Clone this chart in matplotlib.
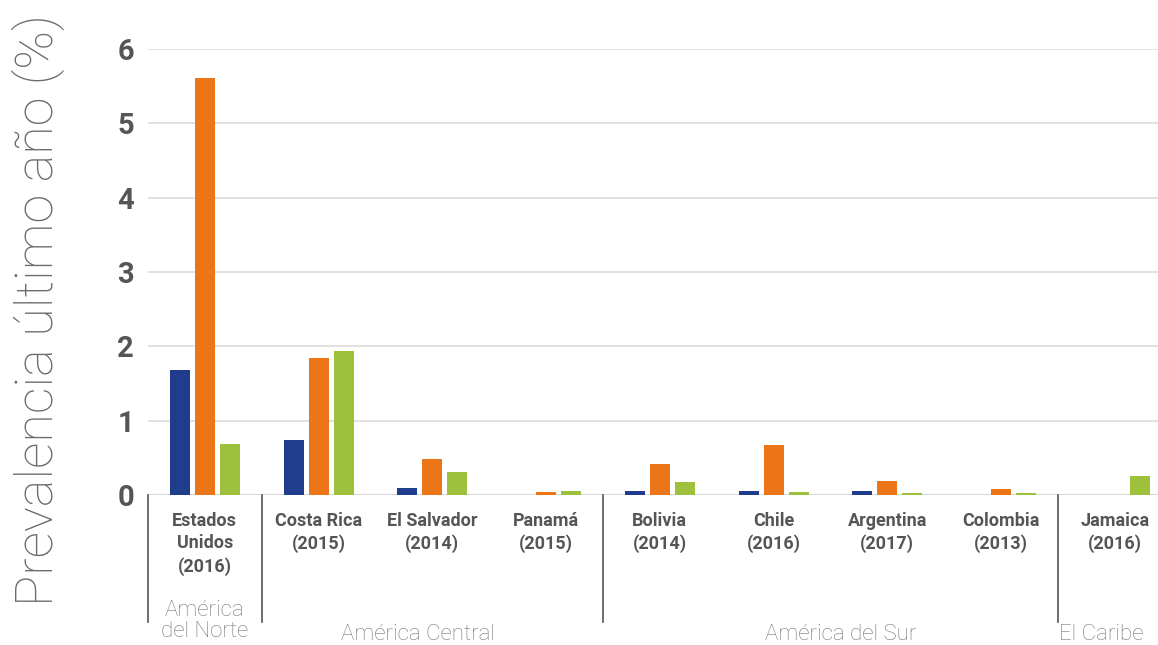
import matplotlib.pyplot as plt
import matplotlib.transforms as mtransforms
import numpy as np

plt.rcParams['font.family'] = ['Roboto', 'DejaVu Sans']

# data
paises = ['Estados\nUnidos\n(2016)', 'Costa Rica\n(2015)', 'El Salvador\n(2014)', 'Panamá\n(2015)',
          'Bolivia\n(2014)', 'Chile\n(2016)', 'Argentina\n(2017)', 'Colombia\n(2013)', 'Jamaica\n(2016)']
serie_azul = [1.68, 0.74, 0.10, 0.0, 0.06, 0.06, 0.06, 0.0, 0.0]
serie_naranja = [5.61, 1.84, 0.48, 0.035, 0.42, 0.67, 0.19, 0.08, 0.0]
serie_verde = [0.69, 1.94, 0.31, 0.06, 0.17, 0.035, 0.02, 0.02, 0.26]
regiones = ['América\ndel Norte', 'América Central', 'América del Sur', 'El Caribe']
region_limites = [-0.5, 0.5, 3.5, 7.5]

colors = ['#1f3d8c', '#ec7518', '#9dc13c']
gris = '#555555'

fig = plt.figure(figsize=(11.58, 6.45), dpi=100)
ax = fig.add_axes([0.1278, 0.2326, 0.8722, 0.6915])

ind = np.arange(len(paises))
width = 0.176
off = 0.22
ax.bar(ind - off, serie_azul, width, color=colors[0], zorder=3)
ax.bar(ind, serie_naranja, width, color=colors[1], zorder=3)
ax.bar(ind + off, serie_verde, width, color=colors[2], zorder=3)

ax.set_xlim(-0.5, 8.38)
ax.set_ylim(0, 6)
ax.set_yticks(range(7))
ax.set_yticklabels([str(i) for i in range(7)], fontsize=21, fontweight='bold', color=gris)
ax.tick_params(axis='y', length=0, pad=10)
ax.set_xticks([])
ax.grid(axis='y', color='#dedede', linewidth=1.3, zorder=0)
for s in ax.spines.values():
    s.set_visible(False)
ax.axhline(0, color='#d8d8d8', linewidth=1.5, zorder=2)

trans = mtransforms.blended_transform_factory(ax.transData, ax.transAxes)

# country labels
for i, p in enumerate(paises):
    ax.annotate(p, xy=(i, 0), xycoords=trans, xytext=(0, -12), textcoords='offset points',
                ha='center', va='top', fontsize=13, fontweight='bold', color=gris,
                linespacing=1.32)

# region separators
for x in region_limites:
    ax.plot([x, x], [0, -0.285], transform=trans, color='#555555', linewidth=1.2, clip_on=False)

# region labels (positions as in the reference)
region_x = [0.0, 1.87, 5.59, 7.88]
region_y = [621, 635, 635, 635]
for k, r in enumerate(regiones):
    ax.annotate(r, xy=(region_x[k], 0), xycoords=trans,
                xytext=(0, -(region_y[k] - 495) * 0.72), textcoords='offset points',
                ha='center', va='center', fontsize=16, fontweight='light', color='#777777',
                linespacing=1.05)

fig.text(38 / 1158, (645 - 310) / 645, 'Prevalencia último año (%)', rotation=90,
         ha='center', va='center', fontsize=37.5, fontweight='light', color='#6b6b6b')

fig.savefig('out.png', dpi=100)
